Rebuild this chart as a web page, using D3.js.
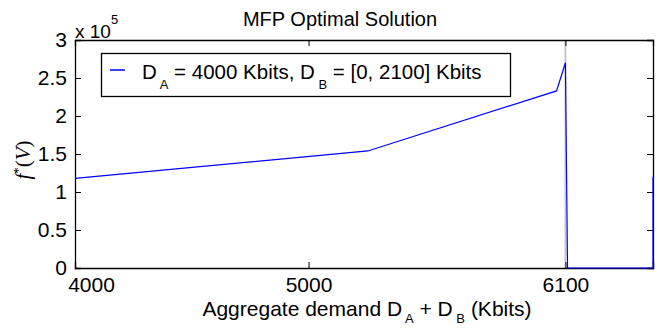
<!DOCTYPE html>
<html>
<head>
<meta charset="utf-8">
<script src="https://cdn.jsdelivr.net/npm/d3@7"></script>
<style>
  body { margin: 0; background: #fff; }
  text { font-family: "Liberation Sans", Arial, sans-serif; fill: #000; }
</style>
</head>
<body>
<div id="chart-container"></div>
<script>
// data
const demand = [4000, 5254, 6062, 6100, 6109, 6475, 6475];     // D_A + D_B (Kbits)
const optimum = [1.18e5, 1.54e5, 2.33e5, 2.70e5, 0, 0, 1.2e5];  // f*(V)
const xTicks = [4000, 5000, 6100];
const yTicks = [0, 0.5e5, 1e5, 1.5e5, 2e5, 2.5e5, 3e5];
const yTickLabels = ["0", "0.5", "1", "1.5", "2", "2.5", "3"];
const markerX = 6100;   // grey vertical line

const width = 657, height = 328;
const margin = { top: 40, right: 4, bottom: 60, left: 75 };
const chartWidth = width - margin.left - margin.right;
const chartHeight = height - margin.top - margin.bottom;

const svg = d3.select("#chart-container")
    .append("svg")
    .attr("width", width)
    .attr("height", height);

const g = svg.append("g")
    .attr("transform", `translate(${margin.left},${margin.top})`);

const xScale = d3.scaleLinear().domain([4000, 6475]).range([0, chartWidth]);
const yScale = d3.scaleLinear().domain([0, 3e5]).range([chartHeight, 0]);

// grey marker line
g.append("line")
    .attr("x1", xScale(markerX)).attr("x2", xScale(markerX))
    .attr("y1", 0).attr("y2", chartHeight)
    .attr("stroke", "#c4c4c4")
    .attr("stroke-width", 1.8);

// axes (ticks inside, box like matlab)
const tickLen = 6;
const xAxis = g.append("g")
    .attr("transform", `translate(0,${chartHeight})`)
    .call(d3.axisBottom(xScale).tickValues(xTicks).tickSize(-tickLen).tickPadding(9).tickFormat(d3.format("d")));
g.append("g")
    .call(d3.axisLeft(yScale).tickValues(yTicks).tickSize(-tickLen).tickPadding(8)
        .tickFormat((d, i) => yTickLabels[i]));
g.append("g")
    .call(d3.axisTop(xScale).tickValues(xTicks).tickSize(-tickLen).tickFormat(""));
g.append("g")
    .attr("transform", `translate(${chartWidth},0)`)
    .call(d3.axisRight(yScale).tickValues(yTicks).tickSize(-tickLen).tickFormat(""));

g.selectAll(".domain").attr("stroke", "#000").attr("stroke-width", 1.3);
g.selectAll(".tick line").attr("stroke", "#000");
g.selectAll(".tick text").style("font-size", "21px").style("font-family", "Liberation Sans, Arial, sans-serif");

// first x label sits to the right of the corner in the reference
xAxis.selectAll(".tick text").filter(d => d === 4000).attr("dx", 16);

// the curve, drawn over the axes
const points = demand.map((d, i) => [d, optimum[i]]);
g.append("path")
    .datum(points)
    .attr("fill", "none")
    .attr("stroke", "#0000ff")
    .attr("stroke-width", 1.2)
    .attr("d", d3.line().x(d => xScale(d[0])).y(d => yScale(d[1])));

// exponent
const expo = svg.append("text")
    .attr("x", margin.left)
    .attr("y", 38)
    .style("font-size", "19px");
expo.append("tspan").text("x 10");
expo.append("tspan").attr("dy", -14).style("font-size", "13px").text("5");

// title
svg.append("text")
    .attr("x", 340)
    .attr("y", 26)
    .attr("text-anchor", "middle")
    .style("font-size", "20px")
    .text("MFP Optimal Solution");

// x label
const xl = svg.append("text")
    .attr("x", margin.left + chartWidth / 2 + 3)
    .attr("y", 316)
    .attr("text-anchor", "middle")
    .style("font-size", "21px");
xl.append("tspan").text("Aggregate demand D");
xl.append("tspan").attr("dy", 7).style("font-size", "13px").text(" A");
xl.append("tspan").attr("dy", -7).text(" + D");
xl.append("tspan").attr("dy", 7).style("font-size", "13px").text(" B");
xl.append("tspan").attr("dy", -7).text("  (Kbits)");

// y label
const yl = svg.append("text")
    .attr("transform", `translate(30,${margin.top + chartHeight / 2 + 6}) rotate(-90)`)
    .attr("text-anchor", "middle")
    .style("font-family", "Liberation Serif, Times New Roman, serif")
    .style("font-size", "21px");
yl.append("tspan").style("font-style", "italic").text("f");
yl.append("tspan").attr("dy", -8).style("font-size", "13px").text("*");
yl.append("tspan").attr("dy", 8).text("(");
yl.append("tspan").style("font-style", "italic").text("V");
yl.append("tspan").text(")");

// legend
const legend = svg.append("g");
legend.append("rect")
    .attr("x", 101.5).attr("y", 53.5)
    .attr("width", 409).attr("height", 43)
    .attr("fill", "#fff")
    .attr("stroke", "#000")
    .attr("stroke-width", 1.3);
legend.append("line")
    .attr("x1", 110).attr("x2", 125)
    .attr("y1", 70).attr("y2", 70)
    .attr("stroke", "#0000ff")
    .attr("stroke-width", 1.5);
const lt = legend.append("text")
    .attr("x", 142)
    .attr("y", 79)
    .style("font-size", "20.5px");
lt.append("tspan").text("D");
lt.append("tspan").attr("dy", 10).style("font-size", "13px").text(" A");
lt.append("tspan").attr("dy", -10).text(" = 4000 Kbits, D");
lt.append("tspan").attr("dy", 10).style("font-size", "13px").text(" B");
lt.append("tspan").attr("dy", -10).text(" = [0, 2100] Kbits");
</script>
</body>
</html>
